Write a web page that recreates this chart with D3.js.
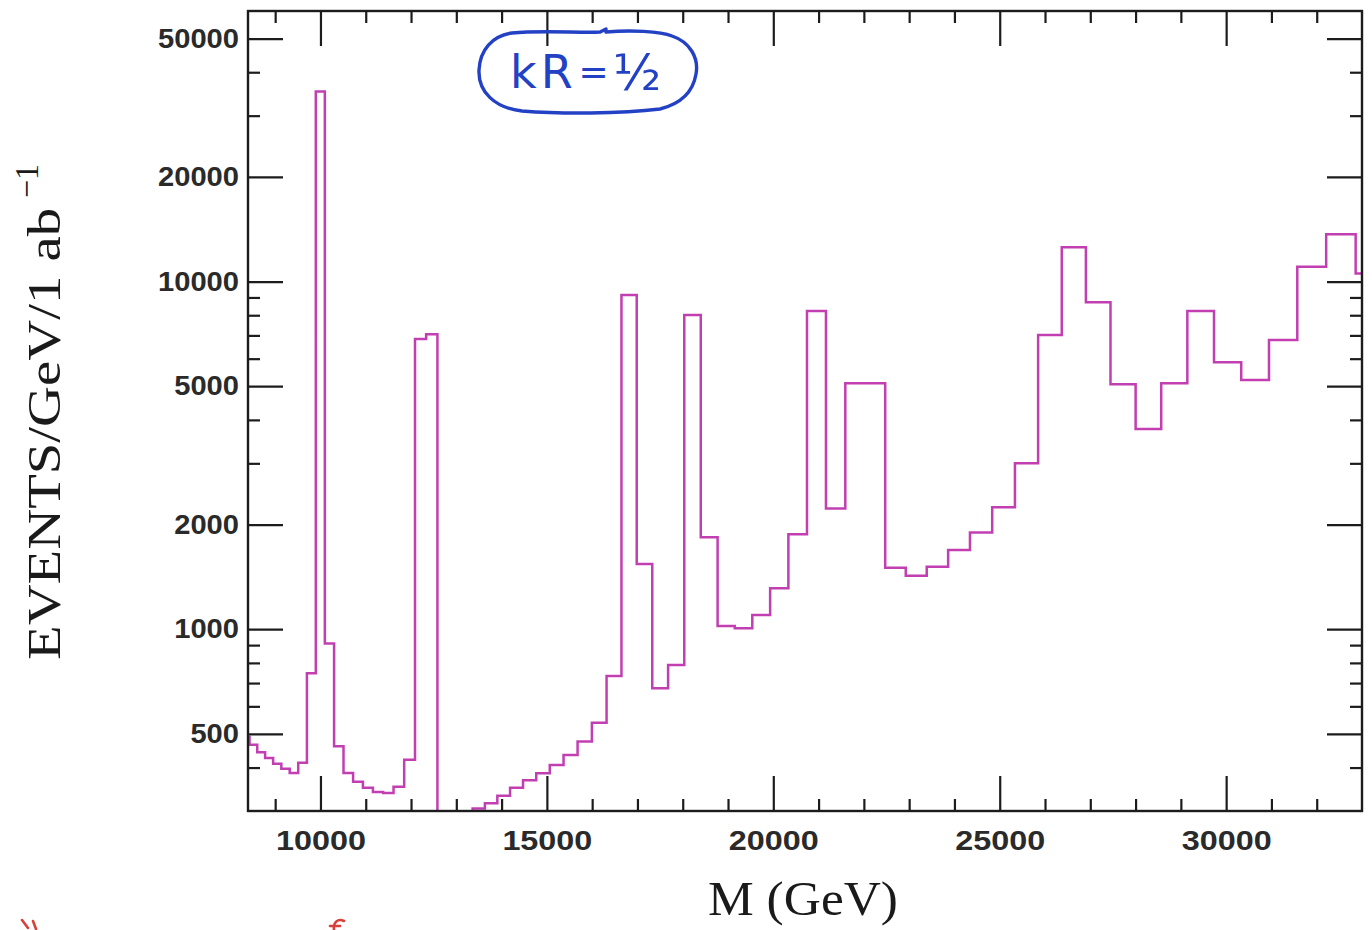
<!DOCTYPE html>
<html>
<head>
<meta charset="utf-8">
<script src="https://cdn.jsdelivr.net/npm/d3@7"></script>
<style>
  html, body { margin: 0; padding: 0; background: #ffffff; }
  svg { display: block; }
</style>
</head>
<body>
<svg id="chart" width="1372" height="930"></svg>
<script>
// Invariant-mass spectrum: events per GeV for 1 ab^-1, log-spaced mass bins (ΔlnM = 0.02).
const binEdges = [
  8267, 8434, 8604, 8778, 8955, 9136, 9321, 9509, 9701, 9897,
  10097, 10301, 10509, 10721, 10938, 11159, 11384, 11614, 11849, 12088,
  12334, 12583, 12837, 13096, 13360, 13631, 13906, 14187, 14473, 14765,
  15064, 15368, 15678, 15994, 16318, 16647, 16984, 17327, 17677, 18034,
  18398, 18770, 19149, 19536, 19930, 20333, 20744, 21163, 21590, 22026,
  22471, 22925, 23388, 23861, 24343, 24834, 25336, 25848, 26370, 26903,
  27446, 28001, 28566, 29143, 29732, 30333, 30946, 31571, 32209, 32860,
  33523
];
const eventsPerGeV = [
  490, 465, 443, 426, 410, 397, 386, 413, 747, 35200,
  910, 461, 386, 364, 350, 340, 338, 352, 421, 6830,
  7050, 250, 270, 290, 305, 316, 332, 350, 368, 385,
  407, 435, 475, 538, 733, 9150, 1540, 676, 789, 8010,
  1838, 1021, 1006, 1099, 1311, 1875, 8230, 2226, 5100, 5100,
  1503, 1425, 1512, 1690, 1897, 2241, 3000, 7017, 12540, 8713,
  5062, 3766, 5097, 8226, 5855, 5208, 6787, 11030, 13670, 10550
];
const xMajorTicks = [10000, 15000, 20000, 25000, 30000];
const xMinorTicks = [9000, 11000, 12000, 13000, 14000, 16000, 17000, 18000, 19000,
                     21000, 22000, 23000, 24000, 26000, 27000, 28000, 29000, 31000, 32000];
const yMajorTicks = [500, 1000, 2000, 5000, 10000, 20000, 50000];
const yMinorTicks = [400, 600, 700, 800, 900, 3000, 4000, 6000, 7000, 8000, 9000, 30000, 40000];
const xTitle = "M (GeV)";
const yTitle = "EVENTS/GeV/1 ab";
const yTitleSup = "\u22121";

const plot = { left: 248, right: 1362, top: 11, bottom: 811 };
const svg = d3.select("#chart");

const x = d3.scaleLinear().domain([8400, 33000]).range([plot.left, plot.right]);
const y = d3.scaleLog().domain([300, 60000]).range([plot.bottom, plot.top]);

const ink = "#1c1c1c";
const labelFont = "'Liberation Sans', Arial, sans-serif";
const serifFont = "'Liberation Serif', 'Times New Roman', serif";

svg.append("defs").append("clipPath").attr("id", "plotClip")
  .append("rect")
  .attr("x", plot.left).attr("y", plot.top)
  .attr("width", plot.right - plot.left).attr("height", plot.bottom - plot.top);

// Histogram outline
const pts = eventsPerGeV.map((v, i) => [binEdges[i], v]);
pts.push([binEdges[binEdges.length - 1], eventsPerGeV[eventsPerGeV.length - 1]]);
const step = d3.line().x(d => x(d[0])).y(d => y(d[1])).curve(d3.curveStepAfter);

svg.append("g").attr("clip-path", "url(#plotClip)")
  .append("path")
  .attr("d", step(pts))
  .attr("fill", "none")
  .attr("stroke", "#c23fb2")
  .attr("stroke-width", 2.5)
  .attr("stroke-linejoin", "miter");

// Axes: ticks point inward on all four sides
function styleAxis(g) {
  g.select(".domain").remove();
  g.selectAll(".tick line").attr("stroke", ink).attr("stroke-width", 2.2);
}
const bigTick = 35, smallTick = 12;

svg.append("g").attr("transform", `translate(0,${plot.bottom})`)
  .call(d3.axisBottom(x).tickValues(xMajorTicks).tickSize(-bigTick).tickPadding(20)
        .tickFormat(d3.format("d")))
  .call(styleAxis)
  .call(g => g.selectAll("text")
    .attr("font-family", labelFont).attr("font-weight", "bold")
    .attr("font-size", 27).attr("fill", "#2a2a2a")
    .attr("textLength", 90).attr("lengthAdjust", "spacingAndGlyphs"));
svg.append("g").attr("transform", `translate(0,${plot.bottom})`)
  .call(d3.axisBottom(x).tickValues(xMinorTicks).tickSize(-smallTick).tickFormat(""))
  .call(styleAxis);
svg.append("g").attr("transform", `translate(0,${plot.top})`)
  .call(d3.axisTop(x).tickValues(xMajorTicks).tickSize(-bigTick).tickFormat(""))
  .call(styleAxis);
svg.append("g").attr("transform", `translate(0,${plot.top})`)
  .call(d3.axisTop(x).tickValues(xMinorTicks).tickSize(-smallTick).tickFormat(""))
  .call(styleAxis);

svg.append("g").attr("transform", `translate(${plot.left},0)`)
  .call(d3.axisLeft(y).tickValues(yMajorTicks).tickSize(-bigTick).tickPadding(9)
        .tickFormat(d3.format("d")))
  .call(styleAxis)
  .call(g => g.selectAll("text")
    .attr("font-family", labelFont).attr("font-weight", "bold")
    .attr("font-size", 27).attr("fill", "#2a2a2a")
    .attr("textLength", function(d) { return String(d).length * 16.2; })
    .attr("lengthAdjust", "spacingAndGlyphs"));
svg.append("g").attr("transform", `translate(${plot.left},0)`)
  .call(d3.axisLeft(y).tickValues(yMinorTicks).tickSize(-smallTick).tickFormat(""))
  .call(styleAxis);
svg.append("g").attr("transform", `translate(${plot.right},0)`)
  .call(d3.axisRight(y).tickValues(yMajorTicks).tickSize(-bigTick).tickFormat(""))
  .call(styleAxis);
svg.append("g").attr("transform", `translate(${plot.right},0)`)
  .call(d3.axisRight(y).tickValues(yMinorTicks).tickSize(-smallTick).tickFormat(""))
  .call(styleAxis);

// Frame
svg.append("rect")
  .attr("x", plot.left).attr("y", plot.top)
  .attr("width", plot.right - plot.left).attr("height", plot.bottom - plot.top)
  .attr("fill", "none").attr("stroke", ink).attr("stroke-width", 2.4);

// Axis titles
svg.append("text")
  .attr("x", 803).attr("y", 915)
  .attr("text-anchor", "middle")
  .attr("font-family", serifFont).attr("font-size", 48).attr("fill", "#1a1a1a")
  .attr("textLength", 190).attr("lengthAdjust", "spacingAndGlyphs")
  .text(xTitle);

const yt = svg.append("g").attr("transform", "translate(60,660) rotate(-90)");
yt.append("text")
  .attr("x", 0).attr("y", 0)
  .attr("font-family", serifFont).attr("font-size", 46).attr("fill", "#1a1a1a")
  .attr("textLength", 452).attr("lengthAdjust", "spacingAndGlyphs")
  .text(yTitle);
yt.append("text")
  .attr("x", 462).attr("y", -22)
  .attr("font-family", serifFont).attr("font-size", 34).attr("fill", "#1a1a1a")
  .attr("textLength", 34).attr("lengthAdjust", "spacingAndGlyphs")
  .text(yTitleSup);

// Hand-written annotation in a loop
const blue = "#2341c4";
svg.append("path")
  .attr("d", "M606,32 C630,30 660,31 672,36 C690,42 699,58 696,74 C693,92 680,104 660,109 " +
             "C620,114 560,114 522,111 C495,108 478,92 479,70 C480,50 492,36 512,33 " +
             "C540,30 580,33 600,32 L606,29")
  .attr("fill", "none").attr("stroke", blue).attr("stroke-width", 3.4)
  .attr("stroke-linecap", "round");
svg.append("text")
  .attr("x", 510).attr("y", 88)
  .attr("font-family", "'DejaVu Sans', sans-serif").attr("fill", blue)
  .call(t => {
    t.append("tspan").attr("font-size", 46).text("k");
    t.append("tspan").attr("font-size", 46).attr("dx", 4).text("R");
    t.append("tspan").attr("font-size", 36).attr("dx", 6).attr("dy", -4).text("=");
    t.append("tspan").attr("font-size", 50).attr("dx", 4).attr("dy", 6).text("\u00bd");
  });

// Fragments of red handwriting at the lower edge
svg.append("g").attr("fill", "none").attr("stroke", "#d9403a")
  .attr("stroke-width", 2.6).attr("stroke-linecap", "round")
  .call(g => {
    g.append("path").attr("d", "M22,920 L28,928 M33,921 L36,929");
    g.append("path").attr("d", "M344,921 C338,918 333,922 334,930 M330,926 L340,926");
  });
</script>
</body>
</html>
